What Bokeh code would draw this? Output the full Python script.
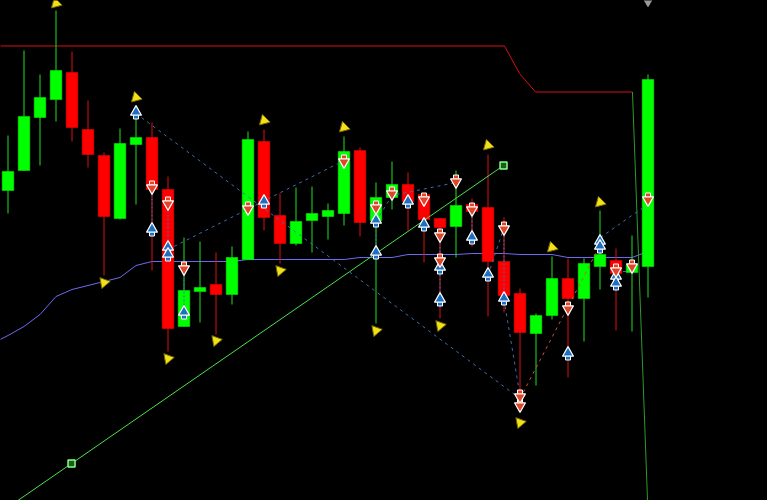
from bokeh.plotting import figure
from bokeh.models import Range1d, ColumnDataSource, GlobalInlineStyleSheet
from bokeh.transform import dodge
from bokeh.embed import file_html
from bokeh.resources import INLINE

# ---- candles (bar index, open, high, low, close) ----
bars = list(range(41))
opens = [310, 330, 383, 401, 428, 371, 345, 282, 356, 363, 311, 174, 209, 216, 206, 241, 359, 285, 257, 280,
         284, 287, 350, 280, 303, 316, 306, 282, 274, 296, 293, 239, 207, 167, 185, 222, 202, 234, 240, 228, 234]
highs = [365, 450, 426, 490, 449, 400, 348, 372, 395, 378, 324, 263, 259, 248, 254, 369, 371, 307, 313, 314,
         297, 364, 353, 318, 339, 328, 306, 282, 330, 302, 346, 283, 212, 187, 244, 242, 242, 290, 252, 265, 426]
lows = [287, 330, 335, 379, 359, 333, 225, 281, 296, 230, 149, 174, 178, 166, 196, 241, 270, 237, 255, 248,
        261, 275, 264, 177, 291, 270, 238, 182, 243, 254, 184, 188, 92, 115, 181, 123, 159, 211, 170, 169, 203]
closes = [329, 384, 403, 430, 373, 346, 284, 357, 363, 311, 172, 210, 213, 206, 243, 361, 283, 257, 279, 287,
          290, 349, 278, 303, 316, 299, 281, 273, 295, 289, 239, 205, 168, 185, 222, 202, 237, 246, 227, 236, 421]

# ---- moving average ----
ma_bars = list(range(-1, 41))
ma_vals = [157, 165, 174, 186, 204, 211, 215, 219, 223, 235, 239, 239, 239, 239, 239, 239, 241, 241, 241, 241,
           241, 241, 241, 243, 243, 243, 246, 246, 246, 246, 247, 247, 247, 246, 246, 246, 243, 243, 243, 243, 243, 249]

# ---- resistance / stop line ----
res_x = [-0.5, 31.03, 31.97, 32.97, 39.03]
res_y = [454.5, 454.5, 427, 408.5, 408.5]
drop_x = [39.03, 39.97]
drop_y = [408.5, 0]

# ---- trend line ----
trend_x = [-0.47, 3.97, 30.97]
trend_y = [-12, 37, 335]
anchor_x = [3.97, 30.97]
anchor_y = [37, 335]

# ---- signal arrows ----
buy_x = [8, 9, 10, 10, 11, 16, 23, 23, 25, 26, 27, 27, 29, 30, 31, 35, 37, 37, 38, 38]
buy_y = [387, 270, 252, 245, 187, 298, 279, 247, 298, 275, 232, 200, 262, 225, 201, 146, 258, 253, 223, 216]
sell_x = [9, 10, 11, 15, 21, 23, 24, 26, 27, 27, 28, 29, 31, 32, 32, 35, 38, 39, 40]
sell_y = [314, 298, 233, 293, 340, 294, 308, 302, 266, 241, 320, 292, 273, 105, 96, 193, 231, 235, 302]

# ---- fractal arrows ----
up_x = [3, 8, 16, 21, 30, 34, 37]
up_y = [497, 403, 380, 373, 355, 253, 298]
dn_x = [6, 10, 13, 17, 23, 27, 32]
dn_y = [218, 142, 160, 230, 170, 175, 78]
mark_x = [40]
mark_y = [499]

# ---- zigzag dashed links ----
blue_links = [([8, 32], [387, 102]), ([10, 21], [251, 340]), ([23, 24, 28], [279, 305, 318]),
              ([31, 32], [201, 105]), ([30, 31], [225, 273]), ([37.03, 39.7], [263, 293]), ([38, 39], [229, 229])]
red_links = [([32, 37], [102, 255])]
pair_x = [9, 10, 11, 23, 27, 29, 31, 38]
pair_top = [314, 298, 233, 294, 266, 292, 273, 231]
pair_bot = [270, 245, 187, 247, 200, 262, 201, 216]

p = figure(width=767, height=500, output_backend="svg", toolbar_location=None,
           x_range=Range1d(-0.46875, 47.46875), y_range=Range1d(0, 500),
           background_fill_color="black", border_fill_color="black",
           min_border=0, outline_line_color=None)
p.axis.visible = False
p.grid.visible = False
p.stylesheets = [GlobalInlineStyleSheet(css="html, body { background: #000; margin: 0; padding: 0; overflow: hidden; }")]

# background lines
p.line(ma_bars, ma_vals, line_color="#7068f0", line_width=1)
p.line(res_x, res_y, line_color="#d81010", line_width=1)
p.line(drop_x, drop_y, line_color="#2e9a2e", line_width=1)

# candles
inc = [i for i in bars if closes[i] >= opens[i]]
dec = [i for i in bars if closes[i] < opens[i]]
src_inc = ColumnDataSource(dict(x=inc, h=[highs[i] for i in inc], l=[lows[i] for i in inc],
                                top=[closes[i] for i in inc], bot=[opens[i] for i in inc]))
src_dec = ColumnDataSource(dict(x=dec, h=[highs[i] for i in dec], l=[lows[i] for i in dec],
                                top=[opens[i] for i in dec], bot=[closes[i] for i in dec]))
p.segment("x", "h", "x", "l", source=src_inc, line_color="#22dd22", line_width=1)
p.segment("x", "h", "x", "l", source=src_dec, line_color="#dd1111", line_width=1)
p.vbar("x", 0.72, "top", "bot", source=src_inc, fill_color="#00ff00", line_color="#00ff00", line_width=0.5)
p.vbar("x", 0.72, "top", "bot", source=src_dec, fill_color="#ff0000", line_color="#ff0000", line_width=0.5)

# trend line
p.line(trend_x, trend_y, line_color="#4ae04a", line_width=1)
p.scatter(anchor_x, anchor_y, marker="square", size=7, fill_color="#1b5e1b", line_color="#88ff88", line_width=1.5)

# dashed zigzags
for xs, ys in blue_links:
    p.line(xs, ys, line_color="#3d6fb0", line_width=1, line_dash="3 4")
for xs, ys in red_links:
    p.line(xs, ys, line_color="#d0503a", line_width=1, line_dash="3 4")
p.segment(pair_x, pair_top, pair_x, pair_bot, line_color="#3d6fb0", line_width=1, line_dash="2 2")

# signal arrows (stem + head)
bsrc = ColumnDataSource(dict(x=buy_x, y=buy_y))
ssrc = ColumnDataSource(dict(x=sell_x, y=sell_y))
p.scatter("x", dodge("y", -3, range=p.y_range), source=bsrc, marker="square", size=5,
          fill_color="#1f6fc0", line_color="white", line_width=1)
p.scatter("x", dodge("y", 1.5, range=p.y_range), source=bsrc, marker="triangle", size=11,
          fill_color="#1f6fc0", line_color="white", line_width=1.2)
p.scatter("x", dodge("y", 3, range=p.y_range), source=ssrc, marker="square", size=5,
          fill_color="#e0452a", line_color="white", line_width=1)
p.scatter("x", dodge("y", -1.5, range=p.y_range), source=ssrc, marker="inverted_triangle", size=11,
          fill_color="#e0452a", line_color="white", line_width=1.2)

# fractal arrows
p.scatter(up_x, up_y, marker="triangle", size=11, angle=0.25,
          fill_color="#f2e01a", line_color="#7a6a00", line_width=1)
p.scatter(dn_x, dn_y, marker="inverted_triangle", size=11, angle=-0.35,
          fill_color="#f2e01a", line_color="#7a6a00", line_width=1)
p.scatter(mark_x, mark_y, marker="inverted_triangle", size=9, fill_color="#9a9a9a", line_color="#9a9a9a")

open("out.html", "w").write(file_html(p, INLINE))
